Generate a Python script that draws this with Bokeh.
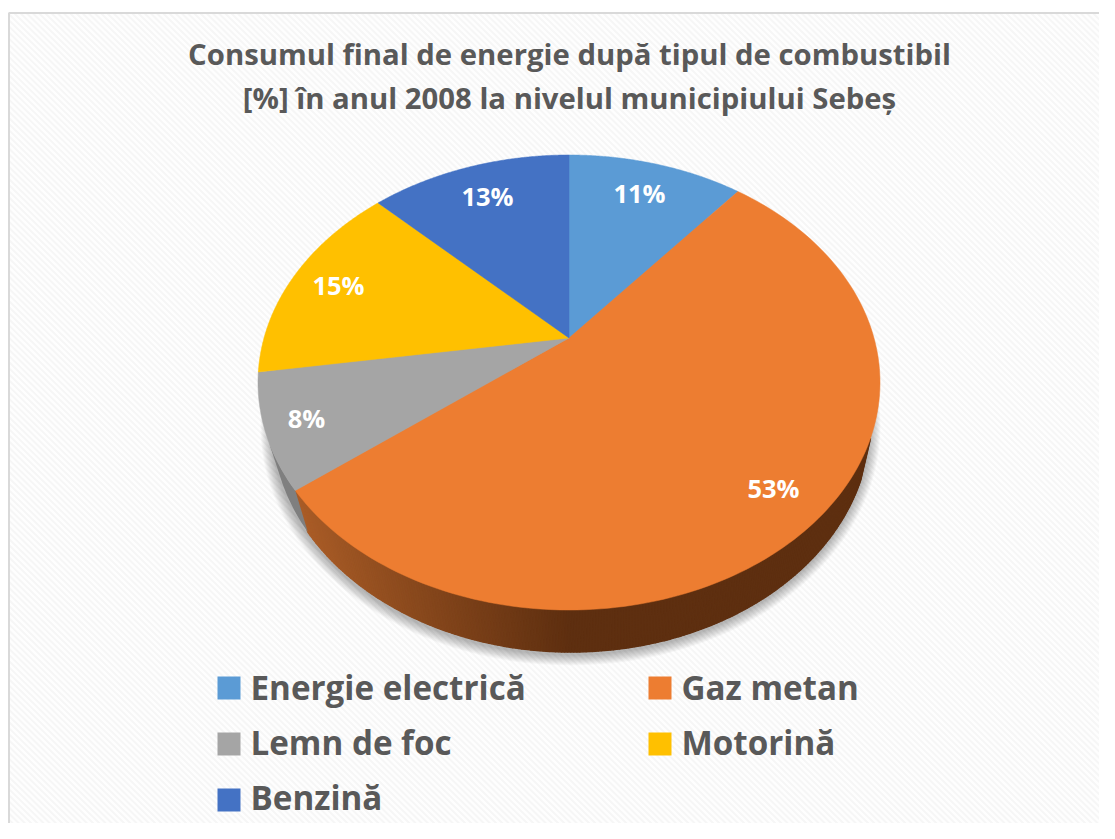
import numpy as np
from bokeh.plotting import figure
from bokeh.models import Range1d
from bokeh.core.properties import value
from bokeh.embed import file_html
from bokeh.resources import INLINE

categories = ["Energie electrică", "Gaz metan", "Lemn de foc", "Motorină", "Benzină"]
shares = [11.0, 53.49, 8.1, 14.8, 12.61]
share_labels = ["11%", "53%", "8%", "15%", "13%"]
colors = ["#5b9bd5", "#ed7d31", "#a5a5a5", "#ffc000", "#4472c4"]
title_lines = ["Consumul final de energie după tipul de combustibil",
               "[%] în anul 2008 la nivelul municipiului Sebeș"]

FONT = value("Open Sans")
W, H = 1099, 823
p = figure(width=W, height=H, output_backend="svg", toolbar_location=None,
           x_range=Range1d(0, W), y_range=Range1d(H, 0),
           min_border=0, outline_line_color=None, background_fill_color="white",
           border_fill_color="white")
p.axis.visible = False
p.grid.visible = False

# chart area with faint diagonal texture and left/top border
p.quad(left=[9], right=[W], top=[13], bottom=[H], fill_color="#fefefe", line_color=None)
offs = np.arange(-H, W, 6.2)
hx = [[max(o, 9) + 0, min(o + H, W)] for o in offs]
hy = [[13 + (a - o) * (H - 13) / H, 13 + (b - o) * (H - 13) / H] for o, (a, b) in zip(offs, hx)]
p.multi_line(hx, hy, line_color="#f6f6f6", line_width=2)
p.line([8.5, 8.5, W], [H, 12.5, 12.5], line_color="#d9d9d9", line_width=2)

# perspective projection of the pie's top face
AX, AY = 568.5, 337.5
A, B, K = 305.0, 218.8, 0.1956
EX, EY, ERX, ERY = 568, 382, 311, 227
LX, LY, LRX, LRY = 570, 423, 299, 228

def rim(theta):
    u, v = np.sin(theta), np.cos(theta)
    w = 1 + K * v
    return AX + A * u / w, AY - B * v / w

def lower(x, y):
    return (x - EX) / ERX * LRX + LX, (y - EY) / ERY * LRY + LY

edges = np.cumsum([0] + shares) / sum(shares) * 2 * np.pi

# soft shadow under the pie
for k in range(1, 12):
    p.ellipse(x=[LX], y=[LY + 3], width=[2 * (LRX + k)], height=[2 * (LRY + k)],
              fill_color="black", fill_alpha=0.026, line_color=None)

def side_color(x):
    t = min(max((x - 300) / 270, 0), 1)
    c0, c1 = np.array([172, 94, 40]), np.array([94, 47, 16])
    r, g, b = (c0 + (c1 - c0) * t).astype(int)
    return f"#{r:02x}{g:02x}{b:02x}"

# side wall: Gaz metan (gradient) and Lemn de foc
thetas = np.linspace(edges[1], edges[2], 400)
thetas = thetas[rim(thetas)[1] > 436]
xs, ys, cs = [], [], []
for a, b in zip(thetas[:-1], thetas[1:]):
    x0, y0 = rim(a); x1, y1 = rim(b)
    q0, r0 = lower(x0, y0); q1, r1 = lower(x1, y1)
    xs.append([x0, x1, q1, q0]); ys.append([y0, y1, r1, r0]); cs.append(side_color((q0 + q1) / 2))
p.patches(xs, ys, fill_color=cs, line_color=cs, line_width=1.5)

thetas = np.linspace(edges[2], edges[3], 40)
thetas = thetas[rim(thetas)[1] > 436]
x_top, y_top = rim(thetas)
x_low, y_low = lower(x_top, y_top)
p.patch(np.r_[x_top, x_low[::-1]], np.r_[y_top, y_low[::-1]], fill_color="#7f7f7f", line_color=None)

# top face
for i, c in enumerate(colors):
    th = np.linspace(edges[i], edges[i + 1], 160)
    x, y = rim(th)
    p.patch(np.r_[AX, x], np.r_[AY, y], fill_color=c, line_color=c, line_width=0.5)

# data labels
label_x = [639, 773, 306, 338, 487]
label_y = [192, 487, 417, 284, 195]
p.text(label_x, label_y, text=share_labels, text_color="white", text_font=FONT,
       text_font_style="bold", text_font_size="25.5px", text_align="center", text_baseline="middle")

# title
p.text([569, 569], [53, 97], text=title_lines, text_color="#595959", text_font=FONT,
       text_font_style="bold", text_font_size="29.3px", text_align="center", text_baseline="middle")

# legend
leg_x = [217, 648, 217, 648, 217]
leg_y = [676, 676, 732, 732, 788]
leg_text_y = [686.5, 686.5, 741.5, 741.5, 796.5]
p.quad(left=leg_x, right=[v + 23 for v in leg_x], top=leg_y, bottom=[v + 23 for v in leg_y],
       fill_color=colors, line_color=None)
p.text([v + 33 for v in leg_x], leg_text_y, text=categories, text_color="#595959",
       text_font=FONT, text_font_style="bold", text_font_size="33.2px",
       text_align="left", text_baseline="middle")

open("out.html", "w").write(file_html(p, INLINE))
